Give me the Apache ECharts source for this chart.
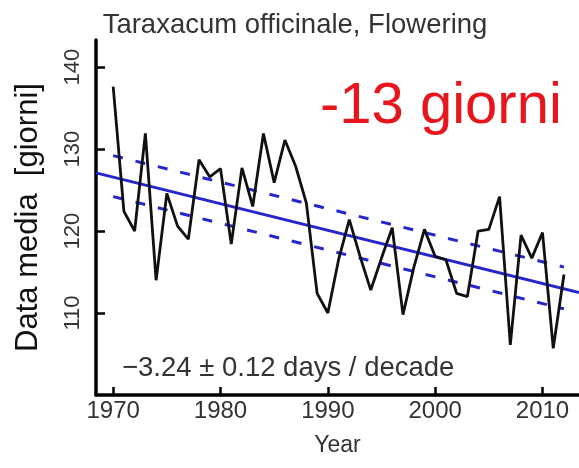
<!DOCTYPE html>
<html>
<head>
<meta charset="utf-8">
<script src="https://cdn.jsdelivr.net/npm/echarts@6/dist/echarts.min.js"></script>
<style>
html,body{margin:0;padding:0;background:#fff;}
#chart{width:579px;height:468px;}
</style>
</head>
<body>
<div id="chart"></div>
<script>
// ---- data ----
const years = [1970,1971,1972,1973,1974,1975,1976,1977,1978,1979,1980,1981,1982,1983,1984,1985,1986,1987,1988,1989,1990,1991,1992,1993,1994,1995,1996,1997,1998,1999,2000,2001,2002,2003,2004,2005,2006,2007,2008,2009,2010,2011,2012];
const floweringDay = [137.6,122.4,120.0,131.9,114.0,124.6,120.6,119.0,128.7,126.6,127.6,118.4,127.7,123.0,131.9,125.9,131.1,127.9,123.4,112.4,110.0,116.5,121.4,116.9,112.8,116.7,120.4,109.8,115.5,120.2,116.9,116.5,112.4,112.0,120.0,120.2,124.2,106.1,119.5,116.7,119.8,105.7,114.7];
const trendYears = [1968.4, 2013.4];
const trendValues = [127.1, 112.5];
const bandYears = [1970, 2012];
const upperValues = [129.2, 115.6];
const lowerValues = [124.2, 110.5];
const xTicks = [1970, 1980, 1990, 2000, 2010];
const yTicks = [110, 120, 130, 140];
const titleText = 'Taraxacum officinale, Flowering';
const changeText = '-13 giorni';
const rateText = '\u22123.24 \u00b1 0.12 days / decade';

const pairs = (xs, ys) => xs.map((x, i) => [x, ys[i]]);
const FONT = '"Liberation Sans", Arial, sans-serif';
const BLUE = '#2626cc';

const chart = echarts.init(document.getElementById('chart'), null, {renderer: 'canvas'});
chart.setOption({
  animation: false,
  backgroundColor: '#fff',
  grid: {left: 96, right: 0, top: 40, bottom: 73, containLabel: false},
  xAxis: {
    type: 'value', min: 1968.4, max: 2013.4,
    name: 'Year', nameLocation: 'middle', nameGap: 39,
    nameTextStyle: {fontFamily: FONT, fontSize: 23, color: '#333'},
    axisLine: {show: true, onZero: false, lineStyle: {color: '#000', width: 3.5}},
    axisTick: {show: true, inside: true, length: 8, lineStyle: {color: '#000', width: 2.5}, customValues: xTicks},
    axisLabel: {fontFamily: FONT, fontSize: 24, color: '#333', margin: 4, customValues: xTicks, formatter: v => String(v)},
    splitLine: {show: false}
  },
  yAxis: {
    type: 'value', min: 100, max: 143.3,
    name: 'Data media  [giorni]', nameLocation: 'middle', nameGap: 52,
    nameTextStyle: {fontFamily: FONT, fontSize: 31, color: '#111'},
    axisLine: {show: true, onZero: false, lineStyle: {color: '#000', width: 3.5}},
    axisTick: {show: true, inside: true, length: 9, lineStyle: {color: '#000', width: 2.5}, customValues: yTicks},
    axisLabel: {fontFamily: FONT, fontSize: 22, color: '#333', rotate: 90, margin: 12, customValues: yTicks, formatter: v => String(v)},
    splitLine: {show: false}
  },
  series: [
    {type: 'line', data: pairs(trendYears, trendValues), symbol: 'none', lineStyle: {color: BLUE, width: 2.8}},
    {type: 'line', data: pairs(bandYears, upperValues), symbol: 'none', lineStyle: {color: BLUE, width: 3, type: [10, 13]}},
    {type: 'line', data: pairs(bandYears, lowerValues), symbol: 'none', lineStyle: {color: BLUE, width: 3, type: [10, 13]}},
    {type: 'line', data: pairs(years, floweringDay), symbol: 'none', lineStyle: {color: '#111', width: 2.8}}
  ],
  graphic: [
    {type: 'text', x: 295, y: 25, style: {text: titleText, font: '27.5px ' + FONT, fill: '#333', align: 'center', verticalAlign: 'middle'}},
    {type: 'text', x: 320, y: 107, style: {text: changeText, font: '58px ' + FONT, fill: '#e8161c', align: 'left', verticalAlign: 'middle'}},
    {type: 'text', x: 122, y: 368, style: {text: rateText, font: '27.5px ' + FONT, fill: '#333', align: 'left', verticalAlign: 'middle'}}
  ]
});
</script>
</body>
</html>
